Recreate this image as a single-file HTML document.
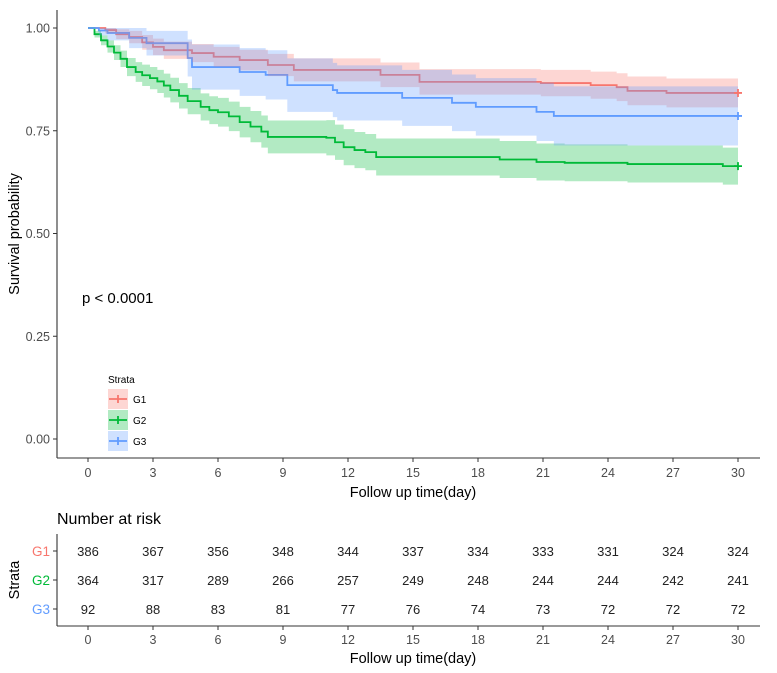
<!DOCTYPE html>
<html><head><meta charset="utf-8"><style>
body{margin:0;background:#fff;}
svg text{font-family:"Liberation Sans",Arial,sans-serif;}
</style></head><body>
<svg id="chart" width="777" height="668" xmlns="http://www.w3.org/2000/svg">
<g id="lines"></g>
<g id="bands"></g>
<g id="marks"></g>
<g id="axes"></g>
<g id="risk"></g>
</svg>
<script>
const groupNames = ["G1","G2","G3"];
const groupColors = ["#F8766D","#00BA38","#619CFF"];
const g1Times = [0,0.8,1.3,1.9,2.5,3.0,3.5,4.8,5.8,7.0,8.3,9.5,13.5,15.3,20.9,23.2,24.4,24.9,26.7];
const g1Surv  = [1,.995,.985,.978,.965,.954,.946,.939,.93,.922,.91,.898,.886,.869,.866,.861,.856,.847,.842];
const g1Half  = [0,.008,.012,.015,.018,.02,.021,.022,.024,.025,.027,.028,.03,.031,.032,.033,.034,.035,.035];
const g2Times = [0,0.3,0.6,0.9,1.2,1.5,1.8,2.2,2.5,2.86,3.2,3.5,3.8,4.2,4.6,5.2,5.6,6.0,6.5,7.0,7.5,8.0,8.3,11,11.4,11.8,12.3,12.8,13.3,19,20.7,22,24.9,29.3];
const g2Surv  = [1,.985,.97,.955,.94,.925,.905,.893,.885,.878,.87,.86,.849,.835,.822,.808,.80,.795,.785,.771,.76,.748,.735,.733,.722,.71,.703,.698,.686,.68,.674,.672,.669,.664];
const g2Half  = [0,.008,.012,.015,.018,.02,.022,.024,.026,.027,.028,.029,.03,.031,.032,.033,.034,.035,.036,.037,.038,.039,.04,.043,.043,.044,.044,.044,.045,.045,.045,.045,.045,.045];
const g3Times = [0,0.5,0.9,1.9,2.7,4.6,4.8,7.0,8.2,9.2,11.3,11.5,14.5,16.8,17.9,20.7,21.5];
const g3Surv  = [1,.994,.988,.976,.963,.927,.905,.893,.886,.861,.849,.842,.83,.818,.808,.796,.786];
const g3Half  = [0,.012,.018,.025,.03,.045,.055,.058,.06,.065,.066,.067,.068,.069,.07,.071,.072];
const xTicks = [0,3,6,9,12,15,18,21,24,27,30];
const yTicks = [0,0.25,0.5,0.75,1.0];
const yTickLabels = ["0.00","0.25","0.50","0.75","1.00"];
const riskG1 = [386,367,356,348,344,337,334,333,331,324,324];
const riskG2 = [364,317,289,266,257,249,248,244,244,242,241];
const riskG3 = [92,88,83,81,77,76,74,73,72,72,72];
const tMax = 30;

const NS="http://www.w3.org/2000/svg";
function x(t){return 88+t*(738-88)/30;}
function y(s){return 28+(1-s)*411;}
function mk(tag,attrs,parent){const e=document.createElementNS(NS,tag);for(const k in attrs)e.setAttribute(k,attrs[k]);parent.appendChild(e);return e;}
const bands=document.getElementById('bands'),lines=document.getElementById('lines'),marks=document.getElementById('marks'),axes=document.getElementById('axes'),risk=document.getElementById('risk');

const groups=[[g1Times,g1Surv,g1Half],[g2Times,g2Surv,g2Half],[g3Times,g3Surv,g3Half]];
const drawOrder=[0,1,2];
drawOrder.forEach(gi=>{
  const [T,S,H]=groups[gi];
  const up=S.map((s,i)=>Math.min(1,s+H[i])), lo=S.map((s,i)=>s-H[i]);
  let top="",bot=[];
  for(let i=0;i<T.length;i++){
    const t1=i+1<T.length?T[i+1]:tMax;
    top+=(i?"L":"M")+x(T[i])+","+y(up[i])+"L"+x(t1)+","+y(up[i]);
    bot.unshift("L"+x(T[i])+","+y(lo[i]));
    bot.unshift("L"+x(t1)+","+y(lo[i]));
  }
  const b=mk('path',{d:top+bot.join("")+"Z",fill:groupColors[gi],'fill-opacity':0.3,stroke:'none'},bands);
  
  
});
drawOrder.forEach(gi=>{
  const [T,S]=groups[gi];
  let d="";
  for(let i=0;i<T.length;i++){
    const t1=i+1<T.length?T[i+1]:tMax;
    d+=(i?"L":"M")+x(T[i])+","+y(S[i])+"L"+x(t1)+","+y(S[i]);
  }
  const p=mk('path',{d:d,fill:'none',stroke:groupColors[gi],'stroke-width':1.8},lines);
  
  
  const ye=y(S[S.length-1]),xe=x(tMax);
  const c=mk('path',{d:`M${xe-4},${ye}H${xe+4}M${xe},${ye-4}V${ye+4}`,stroke:groupColors[gi],'stroke-width':1.8},marks);
  
  
});

mk('line',{x1:57,y1:10,x2:57,y2:458,stroke:'#333','stroke-width':1.1},axes);
mk('line',{x1:57,y1:458,x2:760,y2:458,stroke:'#333','stroke-width':1.1},axes);
yTicks.forEach((v,i)=>{
  mk('line',{x1:53,x2:57,y1:y(v),y2:y(v),stroke:'#333'},axes);
  const t=mk('text',{x:50,y:y(v)+4.5,'text-anchor':'end','font-size':12.5,fill:'#4d4d4d'},axes);t.textContent=yTickLabels[i];
  
  
});
xTicks.forEach(v=>{
  mk('line',{x1:x(v),x2:x(v),y1:458,y2:462,stroke:'#333'},axes);
  const t=mk('text',{x:x(v),y:477,'text-anchor':'middle','font-size':12.5,fill:'#4d4d4d'},axes);t.textContent=v;
  
  
  mk('line',{x1:x(v),x2:x(v),y1:626,y2:630,stroke:'#333'},risk);
  const t2=mk('text',{x:x(v),y:644,'text-anchor':'middle','font-size':12.5,fill:'#4d4d4d'},risk);t2.textContent=v;
  
  
});
mk('line',{x1:57,y1:534,x2:57,y2:626,stroke:'#333','stroke-width':1.1},risk);
mk('line',{x1:57,y1:626,x2:760,y2:626,stroke:'#333','stroke-width':1.1},risk);
const riskRows=[riskG1,riskG2,riskG3],rowY=[551,580,609];
riskRows.forEach((row,gi)=>{
  mk('line',{x1:53,x2:57,y1:rowY[gi],y2:rowY[gi],stroke:'#333'},risk);
  const l=mk('text',{x:50,y:rowY[gi]+5,'text-anchor':'end','font-size':13.5,fill:groupColors[gi]},risk);l.textContent=groupNames[gi];
  
  
  row.forEach((n,i)=>{
    const t=mk('text',{x:x(xTicks[i]),y:rowY[gi]+5,'text-anchor':'middle','font-size':13,fill:'#222'},risk);t.textContent=n;
    
    
  });
});
</script>
<svg style="position:absolute;left:0;top:0" width="777" height="668" xmlns="http://www.w3.org/2000/svg">
<text transform="translate(19,234) rotate(-90)" text-anchor="middle" font-size="14.5" fill="#000" font-family="Liberation Sans">Survival probability</text>
<text x="413" y="497" text-anchor="middle" font-size="14.5" fill="#000" font-family="Liberation Sans">Follow up time(day)</text>
<text x="82" y="303" font-size="15" fill="#000" font-family="Liberation Sans">p &lt; 0.0001</text>
<g font-family="Liberation Sans">
<text x="108" y="383" font-size="10" fill="#000">Strata</text>
<g><rect x="108" y="389" width="20" height="20" fill="#F8766D" fill-opacity="0.3"/><path d="M109,399H127M118,395V403" stroke="#F8766D" stroke-width="1.8"/><text x="133" y="403" font-size="10">G1</text></g>
<g><rect x="108" y="410" width="20" height="20" fill="#00BA38" fill-opacity="0.3"/><path d="M109,420H127M118,416V424" stroke="#00BA38" stroke-width="1.8"/><text x="133" y="424" font-size="10">G2</text></g>
<g><rect x="108" y="431" width="20" height="20" fill="#619CFF" fill-opacity="0.3"/><path d="M109,441H127M118,437V445" stroke="#619CFF" stroke-width="1.8"/><text x="133" y="445" font-size="10">G3</text></g>
</g>
<text x="57" y="524" font-size="16" fill="#000" font-family="Liberation Sans">Number at risk</text>
<text transform="translate(19,580) rotate(-90)" text-anchor="middle" font-size="14.5" fill="#000" font-family="Liberation Sans">Strata</text>
<text x="413" y="663" text-anchor="middle" font-size="14.5" fill="#000" font-family="Liberation Sans">Follow up time(day)</text>
</svg>
</body></html>
